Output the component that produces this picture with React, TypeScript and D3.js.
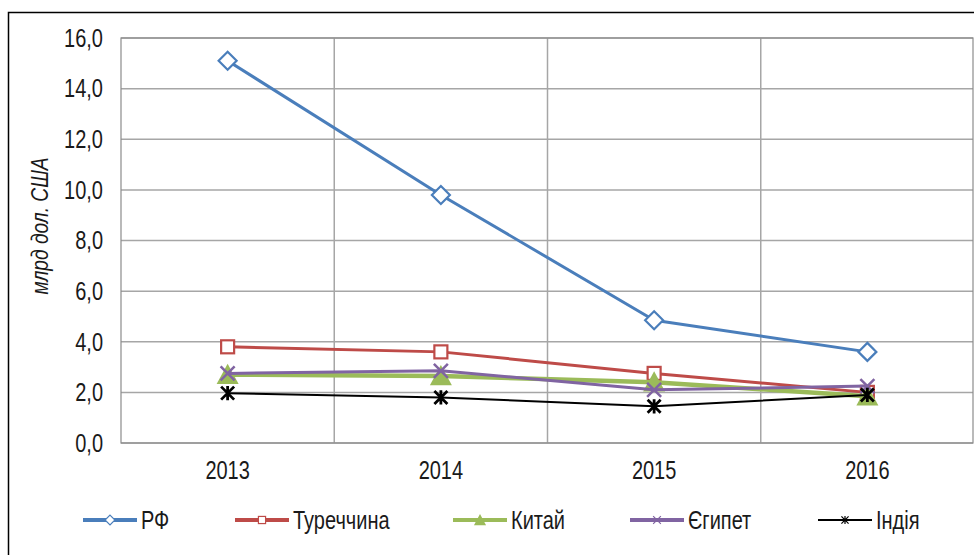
import React from 'react';
import * as d3 from 'd3';

const years = ['2013', '2014', '2015', '2016'];
const rf = [15.1, 9.8, 4.85, 3.6];
const turkey = [3.8, 3.6, 2.75, 2.0];
const china = [2.7, 2.65, 2.4, 1.85];
const egypt = [2.75, 2.85, 2.1, 2.25];
const india = [1.97, 1.8, 1.45, 1.9];
const yTicks = [0, 2, 4, 6, 8, 10, 12, 14, 16];

const series = [
  { name: 'РФ', values: rf, color: '#4a7ebb', width: 3, marker: 'diamond' },
  { name: 'Туреччина', values: turkey, color: '#be4b48', width: 3, marker: 'square' },
  { name: 'Китай', values: china, color: '#9bbb59', width: 4.5, marker: 'triangle' },
  { name: 'Єгипет', values: egypt, color: '#8064a2', width: 3, marker: 'x' },
  { name: 'Індія', values: india, color: '#000000', width: 2, marker: 'star' },
];

const legendX = [83, 235, 453, 630, 818];

const W = 974;
const H = 555;
const margin = { top: 38, right: 0, bottom: 112, left: 121 };
const font = "'Liberation Sans', Arial, sans-serif";
const SX = 0.8;

// condensed text (Arial Narrow look-alike)
function NText({ x, y, anchor = 'start', size = 25, rotate = 0, italic = false, children }: any) {
  return (
    <text
      transform={`translate(${x},${y}) rotate(${rotate}) scale(${SX},1)`}
      textAnchor={anchor}
      dy="0.35em"
      fontSize={size}
      fontStyle={italic ? 'italic' : 'normal'}
      fill="#1a1a1a"
    >
      {children}
    </text>
  );
}

function Marker({ type, x, y, color, legend }: { type: string; x: number; y: number; color: string; legend?: boolean }) {
  const k = legend ? 0.55 : 1;
  if (type === 'diamond') {
    const s = 9 * k;
    return <path d={`M${x},${y - s}L${x + s},${y}L${x},${y + s}L${x - s},${y}Z`} fill="#fff" stroke={color} strokeWidth={legend ? 1.2 : 2.2} />;
  }
  if (type === 'square') {
    const s = 6.5 * k;
    return <rect x={x - s} y={y - s} width={2 * s} height={2 * s} fill="#fff" stroke={color} strokeWidth={legend ? 1.2 : 2.2} />;
  }
  if (type === 'triangle') {
    const s = 11 * k;
    return <path d={`M${x},${y - s}L${x + s},${y + s * 0.85}L${x - s},${y + s * 0.85}Z`} fill={color} />;
  }
  if (type === 'x') {
    const s = 7 * k;
    return <path d={`M${x - s},${y - s}L${x + s},${y + s}M${x - s},${y + s}L${x + s},${y - s}`} stroke={color} strokeWidth={legend ? 1.2 : 2.5} />;
  }
  const s = 6.5 * k;
  return (
    <path
      d={`M${x - s},${y - s}L${x + s},${y + s}M${x - s},${y + s}L${x + s},${y - s}M${x},${y - s * 1.1}L${x},${y + s * 1.1}`}
      stroke={color}
      strokeWidth={legend ? 1.2 : 2.8}
    />
  );
}

export default function App() {
  const innerW = W - margin.left - margin.right;
  const innerH = H - margin.top - margin.bottom;
  const x = d3.scaleBand().domain(years).range([margin.left, margin.left + innerW]);
  const y = d3.scaleLinear().domain([0, 16]).range([margin.top + innerH, margin.top]);
  const cx = (yr: string) => (x(yr) as number) + x.bandwidth() / 2;
  const line = d3
    .line<number>()
    .x((_, i) => cx(years[i]))
    .y((d) => y(d));

  return (
    <svg width={W} height={H} style={{ position: 'absolute', left: 0, top: 0, background: '#fff' }} fontFamily={font}>
      <rect x={8.5} y={12.5} width={W + 10} height={H + 10} fill="#fff" stroke="#000" strokeWidth={1.5} />
      {/* grid */}
      {yTicks.map((t) => (
        <line key={t} x1={margin.left} x2={margin.left + innerW - 1} y1={y(t)} y2={y(t)} stroke="#a6a6a6" strokeWidth={1.5} />
      ))}
      {years.map((yr, i) =>
        i > 0 ? (
          <line key={yr} x1={x(yr)} x2={x(yr)} y1={margin.top} y2={margin.top + innerH} stroke="#a6a6a6" strokeWidth={1.5} />
        ) : null
      )}
      <rect x={margin.left} y={margin.top} width={innerW - 1} height={innerH} fill="none" stroke="#8c8c8c" strokeWidth={1.2} />
      {/* y ticks */}
      {yTicks.map((t) => (
        <NText key={t} x={103} y={y(t)} anchor="end">
          {t.toFixed(1).replace('.', ',')}
        </NText>
      ))}
      <NText x={40} y={226} anchor="middle" rotate={-90} size={24} italic>
        млрд дол. США
      </NText>
      {years.map((yr) => (
        <NText key={yr} x={cx(yr)} y={470} anchor="middle">
          {yr}
        </NText>
      ))}
      {/* series */}
      {series.map((s) => (
        <g key={s.name}>
          <path d={line(s.values) as string} fill="none" stroke={s.color} strokeWidth={s.width} strokeLinejoin="round" />
          {s.values.map((v, i) => (
            <Marker key={i} type={s.marker} x={cx(years[i])} y={y(v)} color={s.color} />
          ))}
        </g>
      ))}
      {/* legend */}
      {series.map((s, i) => (
        <g key={s.name}>
          <line x1={legendX[i]} x2={legendX[i] + 54} y1={520} y2={520} stroke={s.color} strokeWidth={s.marker === 'star' ? 2 : 4} />
          <Marker type={s.marker} x={legendX[i] + 27} y={520} color={s.color} legend />
          <NText x={legendX[i] + 58} y={520}>
            {s.name}
          </NText>
        </g>
      ))}
    </svg>
  );
}
